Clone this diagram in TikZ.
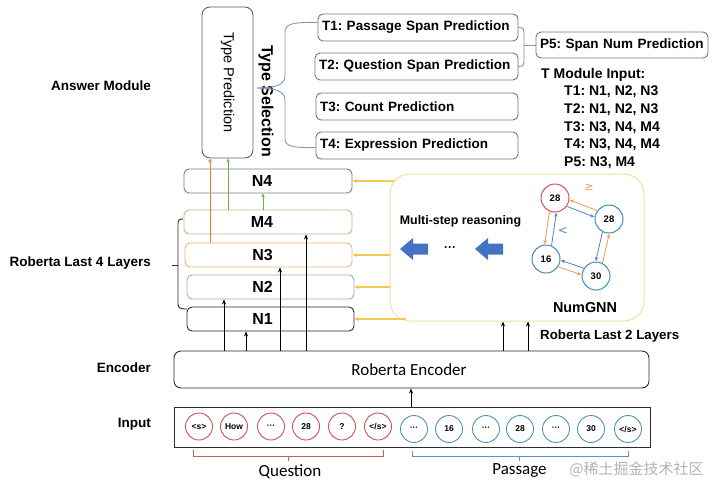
\documentclass[tikz,border=0pt]{standalone}
\usepackage{graphicx}
\usepackage{fontspec}
\setmainfont{Liberation Sans}
\newfontfamily\calfont{Carlito}
\newfontfamily\cjkfont{Noto Sans CJK SC}
\newfontfamily\djfont{DejaVu Sans}
\usetikzlibrary{arrows.meta,calc}
\frenchspacing
\hyphenpenalty=10000
\definecolor{tpcol}{HTML}{5A5E66}
\definecolor{tcol}{HTML}{6B778A}
\definecolor{bracecol}{HTML}{8596B5}
\definecolor{n4col}{HTML}{7B7A9C}
\definecolor{m4col}{HTML}{A8C58E}
\definecolor{n3col}{HTML}{F3B27A}
\definecolor{n2col}{HTML}{8EAAD8}
\definecolor{n1col}{HTML}{2B2B2B}
\definecolor{oarr}{HTML}{ED7D31}
\definecolor{garrc}{HTML}{70AD47}
\definecolor{ycol}{HTML}{F2C94C}
\definecolor{gnncol}{HTML}{F1E29A}
\definecolor{bblue}{HTML}{4472C4}
\definecolor{gred}{HTML}{D8505C}
\definecolor{gteal}{HTML}{3D8DB5}
\definecolor{eorange}{HTML}{EE9A4A}
\definecolor{eblue}{HTML}{5B7FC7}
\definecolor{tred}{HTML}{D2505A}
\definecolor{tblue}{HTML}{4D95B8}
\definecolor{qred}{HTML}{D05A5A}
\definecolor{pblue}{HTML}{6A8FC0}
\definecolor{wmark}{HTML}{B4B4B4}
\newcommand\gedge[3]{\draw[garr=#3] ($(#1)!3.5pt!-90:(#2)$) -- ($(#2)!3.5pt!90:(#1)$);}
\begin{document}
\begin{tikzpicture}[x=1pt,y=-1pt,
  lbl/.style={anchor=east,inner sep=0pt,font=\bfseries\fontsize{13.5}{16}\selectfont},
  tbox/.style={draw=tcol,line width=0.9pt,rounded corners=5pt,minimum height=27pt,inner xsep=4pt,inner ysep=0pt,text width=#1,align=left,font=\bfseries\fontsize{13.5}{16}\selectfont},
  layer/.style={draw=#1,line width=0.9pt,rounded corners=5pt,minimum height=24pt,inner sep=0pt,font=\bfseries\fontsize{16}{19}\selectfont},
  arr/.style={-{Stealth[length=5pt,width=4pt]},line width=0.9pt,draw=black},
  carr/.style={-{Stealth[length=4pt,width=3.5pt]},line width=0.9pt,draw=#1},
  yarr/.style={-{Stealth[length=4.5pt,width=4pt]},line width=1.1pt,draw=ycol},
  brc/.style={draw=#1,line width=0.9pt},
  tok/.style={circle,draw=#1,line width=0.9pt,minimum size=27pt,inner sep=0pt,font=\bfseries\fontsize{8.5}{10}\selectfont},
  gnode/.style={circle,draw=#1,line width=1pt,minimum size=28pt,inner sep=0pt,font=\bfseries\fontsize{9.5}{11}\selectfont},
  garr/.style={-{Stealth[length=4pt,width=3.5pt]},line width=0.8pt,draw=#1,shorten <=14pt,shorten >=14.5pt},
  tmod/.style={anchor=base west,inner sep=0pt,font=\bfseries\fontsize{14}{17}\selectfont},
  calt/.style={inner sep=0pt,font=\calfont\fontsize{17}{20}\selectfont},
]
\useasboundingbox[fill=white] (0,0) rectangle (720,493);

% left labels
\node[lbl] (lam) at (151,86) {Answer Module};
\node[lbl] (lr4) at (151,263) {Roberta Last 4 Layers};
\node[lbl] (lenc) at (151,368) {Encoder};
\node[lbl] (linp) at (151,424) {Input};

% answer module
\node[draw=tpcol,line width=0.9pt,rounded corners=8pt,minimum width=51pt,minimum height=151pt,inner sep=0pt,font=\fontsize{14.5}{17}\selectfont] (tp) at (227.5,82.5) {\rotatebox{-90}{Type Prediction}};
\node[inner sep=0pt,font=\bfseries\fontsize{16}{19}\selectfont] (tsel) at (266,101) {\rotatebox{-90}{Type Selection}};

\node[tbox=192pt] (t1) at (418,27.5) {T1: Passage Span Prediction};
\node[tbox=195pt] (t2) at (416.5,66.5) {T2: Question Span Prediction};
\node[tbox=194pt] (t3) at (417,106.5) {T3: Count Prediction};
\node[tbox=194pt] (t4) at (417,145.5) {T4: Expression Prediction};
\node[tbox=164pt,minimum height=26pt] (p5) at (622,45) {P5: Span Num Prediction};

\coordinate (tstip) at (257,88);
\draw[brc=bracecol] (tstip) .. controls (272,88) and (285,86) .. (285,76) -- (285,32) .. controls (285,24) and (292,22) .. ($(t1.west)+(0,-5)$);
\draw[brc=bracecol] (tstip) .. controls (272,88) and (285,90) .. (285,100) -- (285,139) .. controls (285,146) and (292,148) .. ($(t4.west)+(0,2)$);
\draw[brc=bracecol] (t1.east) -- (520,27.5) .. controls (523,27.5) and (524,29) .. (524,32) -- (524,62) .. controls (524,65) and (523,66.5) .. (t2.east);
\draw[brc=bracecol] (524,45) -- (p5.west);

\node[tmod] (tmi) at (541,78.3) {T Module Input:};
\node[tmod] (tm1) at (564,95.7) {T1: N1, N2, N3};
\node[tmod] (tm2) at (564,113.3) {T2: N1, N2, N3};
\node[tmod] (tm3) at (564,131) {T3: N3, N4, M4};
\node[tmod] (tm4) at (564,148.6) {T4: N3, N4, M4};
\node[tmod] (tm5) at (564,166.2) {P5: N3, M4};

% layers
\node[layer=n4col,minimum width=168pt] (n4) at (268,181) {N4\rule{12pt}{0pt}};
\node[layer=m4col,minimum width=168pt] (m4) at (268,222) {M4\rule{12pt}{0pt}};
\node[layer=n3col,minimum width=167pt] (n3) at (268.5,255) {N3\rule{12pt}{0pt}};
\node[layer=n2col,minimum width=167pt] (n2) at (270.5,287) {N2\rule{16pt}{0pt}};
\node[layer=n1col,minimum width=167pt] (n1) at (270.5,319) {N1\rule{16pt}{0pt}};

\draw[brc=n1col] (183,219) .. controls (179,219) and (178,220) .. (178,224) -- (178,304) .. controls (178,308) and (180,309) .. (187,309);
\draw[brc=n1col] (172,265) -- (178,265);

% colored arrows to answer module
\draw[carr=oarr] (n3.north -| 210,0) -- (tp.south -| 210,0);
\draw[carr=garrc] (m4.north -| 228,0) -- (tp.south -| 228,0);
\draw[carr=garrc] (m4.north -| 263,0) -- (n4.south -| 263,0);

% NumGNN
\node[draw=gnncol,line width=1pt,rounded corners=20pt,minimum width=254pt,minimum height=147pt,inner sep=0pt] (gnn) at (517,247.5) {};
\node[inner sep=0pt,font=\bfseries\fontsize{12.4}{15}\selectfont] (msr) at (460.5,221) {Multi-step reasoning};
\node[inner sep=0pt,font=\bfseries\fontsize{14.4}{17}\selectfont] (gnnlbl) at (585,308) {NumGNN};
\node[inner sep=0pt,font=\bfseries\fontsize{12}{14}\selectfont] (dots) at (450,249) {···};
\fill[bblue] (400,249) -- (413,238) -- (413,243.5) -- (428,243.5) -- (428,254.5) -- (413,254.5) -- (413,260) -- cycle;
\fill[bblue] (475,249) -- (488,238) -- (488,243.5) -- (503,243.5) -- (503,254.5) -- (488,254.5) -- (488,260) -- cycle;

\node[gnode=gred] (g1) at (555,198) {28};
\node[gnode=gteal] (g2) at (609,219) {28};
\node[gnode=gteal] (g3) at (546,259) {16};
\node[gnode=gteal] (g4) at (596,276) {30};
\gedge{g1}{g2}{eblue}
\gedge{g2}{g4}{eblue}
\gedge{g4}{g3}{eblue}
\gedge{g3}{g1}{eblue}
\gedge{g2}{g1}{eorange}
\gedge{g4}{g2}{eorange}
\gedge{g3}{g4}{eorange}
\gedge{g1}{g3}{eorange}
\node[inner sep=0pt,text=eorange,font=\djfont\fontsize{11}{13}\selectfont] (ge) at (589,187) {≥};
\node[inner sep=0pt,text=eblue,font=\djfont\fontsize{12}{13}\selectfont] (lt) at (563,231) {<};

% yellow arrows
\draw[yarr] ($(gnn.west |- n4.east)+(4,0)$) -- (n4.east);
\draw[yarr] (gnn.west |- n3.east) -- (n3.east);
\draw[yarr] (gnn.west |- n2.east) -- (n2.east);
\draw[yarr] ($(gnn.west |- n1.east)+(16,0)$) -- (n1.east);

% encoder
\node[draw=n1col,line width=0.9pt,rounded corners=7pt,minimum width=475pt,minimum height=37pt,inner sep=0pt] (enc) at (411.5,369.5) {};
\node[calt] (enct) at (409,370) {Roberta Encoder};
\draw[arr] (enc.north -| 224,0) -- (n2.south -| 224,0);
\draw[arr] (enc.north -| 246,0) -- (n1.south -| 246,0);
\draw[arr] (enc.north -| 280,0) -- (n3.south -| 280,0);
\draw[arr] (enc.north -| 306,0) -- (m4.south -| 306,0);
\draw[arr] (enc.north -| 503,0) -- (gnn.south -| 503,0);
\draw[arr] (enc.north -| 528,0) -- (gnn.south -| 528,0);
\node[anchor=west,inner sep=0pt,font=\bfseries\fontsize{13.3}{16}\selectfont] (rl2) at (540,336) {Roberta Last 2 Layers};

% input
\node[draw=n1col,line width=0.9pt,minimum width=476pt,minimum height=40pt,inner sep=0pt] (inp) at (412,427) {};
\draw[arr] (inp.north -| 411,0) -- (enc.south -| 411,0);
\node[tok=tred] (q1) at (199,426.5) {<s>};
\node[tok=tred] (q2) at (234,426.5) {How};
\node[tok=tred] (q3) at (271,426.5) {···};
\node[tok=tred] (q4) at (306,426.5) {28};
\node[tok=tred] (q5) at (342,426.5) {?};
\node[tok=tred] (q6) at (378,426.5) {</s>};
\node[tok=tblue] (p1) at (414,429) {···};
\node[tok=tblue] (p2) at (449,429) {16};
\node[tok=tblue] (p3) at (486,429) {···};
\node[tok=tblue] (p4) at (520,429) {28};
\node[tok=tblue] (p5t) at (556,429) {···};
\node[tok=tblue] (p6) at (591,429) {30};
\node[tok=tblue] (p7) at (628,429) {</s>};

\draw[brc=qred] (193,450) -- (193,456) -- (383,456) -- (383,450);
\draw[brc=qred] (288,456) -- (288,461);
\draw[brc=pblue] (412,451) -- (412,456) -- (628,456) -- (628,451);
\draw[brc=pblue] (519.5,456) -- (519.5,461);
\node[calt] (qlbl) at (290,472) {Question};
\node[calt] (plbl) at (519.5,470) {Passage};
\node[inner sep=0pt,text=wmark,font=\cjkfont\fontsize{15}{18}\selectfont] (wm) at (636.5,469) {@稀土掘金技术社区};
\end{tikzpicture}
\end{document}
